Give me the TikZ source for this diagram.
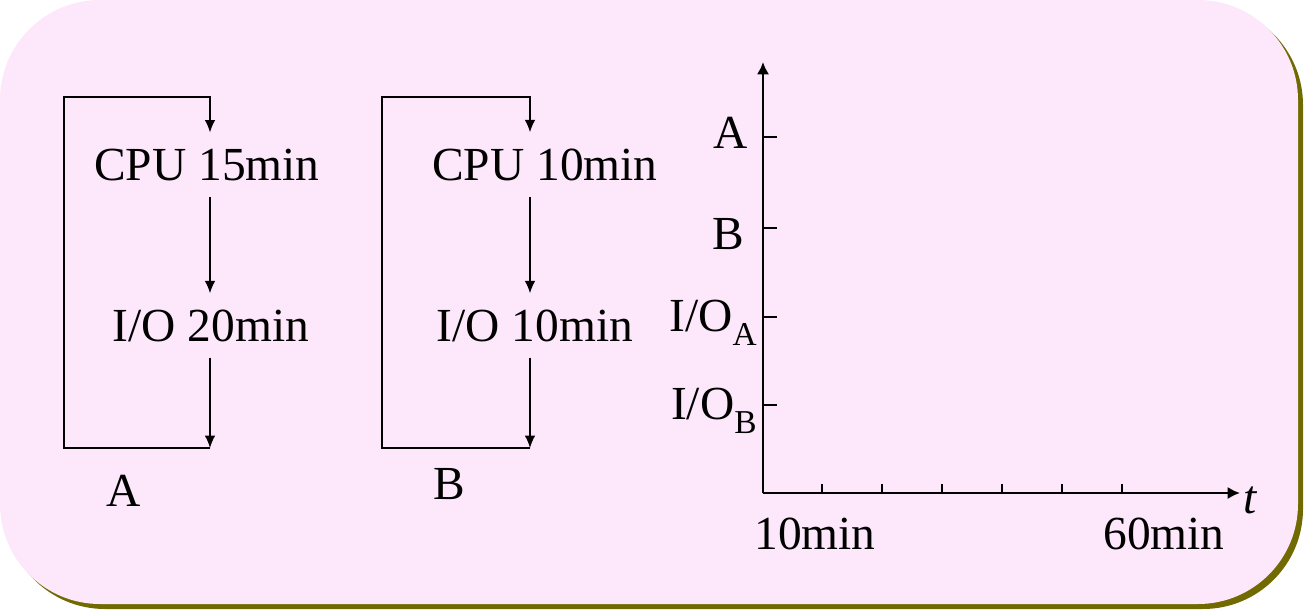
\documentclass[tikz,border=0pt]{standalone}
\usepackage{xcolor}
\usepackage{fontspec}
\setmainfont{Liberation Serif}
\usetikzlibrary{arrows.meta, positioning}
\definecolor{panelpink}{RGB}{253,231,250}
\definecolor{shadeolive}{RGB}{112,106,0}

\tikzset{
    txt/.style={font=\fontsize{27}{30}\selectfont, inner sep=0pt, anchor=base},
    job/.style={txt, inner xsep=0pt, inner ysep=9pt},
    flow/.style={-{Latex[length=7pt,width=6pt]}, line width=0.9pt},
    axis/.style={-{Latex[length=7pt,width=7pt]}, line width=1.5pt},
    tick/.style={line width=1.2pt}
}

\begin{document}
\begin{tikzpicture}[x=0.02cm, y=-0.02cm]
    \useasboundingbox (0,0) rectangle (1305,612);
    \fill[shadeolive, rounded corners=2cm] (5,5) rectangle (1303,609);
    \fill[panelpink, rounded corners=2cm] (0,0) rectangle (1298,604);

    % job A
    \node[job] (cpuA) at (207,180) {CPU 15min};
    \node[job] (ioA) at (211,341) {I/O 20min};
    \coordinate (endA) at (210,448);
    \coordinate (loopA) at (64,97);
    \node[txt] (nameA) at (124,506) {A};
    \draw[flow] (cpuA.south -| endA) -- (ioA.north -| endA);
    \draw[flow] (ioA.south -| endA) -- (endA);
    \draw[flow] (endA) -| (loopA) -| (cpuA.north -| endA);

    % job B
    \node[job] (cpuB) at (545,180) {CPU 10min};
    \node[job] (ioB) at (535,341) {I/O 10min};
    \coordinate (endB) at (530,448);
    \coordinate (loopB) at (382,97);
    \node[txt] (nameB) at (449,499) {B};
    \draw[flow] (cpuB.south -| endB) -- (ioB.north -| endB);
    \draw[flow] (ioB.south -| endB) -- (endB);
    \draw[flow] (endB) -| (loopB) -| (cpuB.north -| endB);

    % time chart
    \coordinate (orig) at (763,493);
    \coordinate (ytop) at (763,62);
    \coordinate (xend) at (1240,493);
    \draw[axis] (orig) -- (ytop);
    \draw[axis] (orig) -- (xend);
    \foreach \y in {137,228,317,405}
        \draw[tick] (763,\y) -- (777,\y);
    \foreach \x in {822,882,...,1122}
        \draw[tick] (\x,493) -- (\x,484);
    \node[txt, anchor=base east] (rowA) at (748,148) {A};
    \node[txt, anchor=base east] (rowB) at (744,249) {B};
    \node[txt, anchor=base east] (rowioA) at (757,331) {I/O\raisebox{-0.3em}{\fontsize{19}{20}\selectfont A}};
    \node[txt, anchor=base east] (rowioB) at (757,419) {I/O\raisebox{-0.3em}{\fontsize{19}{20}\selectfont B}};
    \node[txt] (tmin) at (815,549) {10min};
    \node[txt] (tmax) at (1164,549) {60min};
    \node[txt, anchor=base west] (tlabel) at (1243,513) {\itshape t};
\end{tikzpicture}
\end{document}
